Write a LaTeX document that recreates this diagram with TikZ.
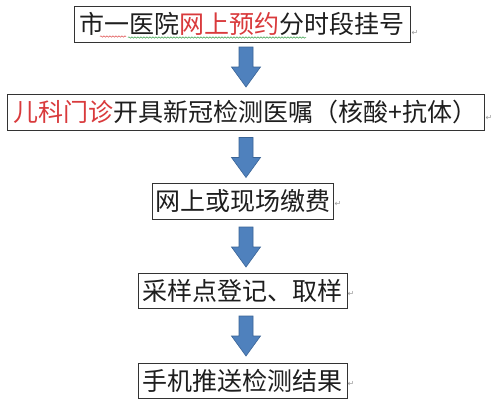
\documentclass[tikz,border=0pt]{standalone}
\usepackage{fontspec}
\newfontfamily\cjk{Noto Sans CJK SC}
\newfontfamily\dejavu{DejaVu Sans}
\usetikzlibrary{decorations.pathmorphing}
\definecolor{txt}{HTML}{1E1E1E}
\definecolor{redtxt}{HTML}{D93A3C}
\definecolor{boxline}{HTML}{333333}
\definecolor{arrowfill}{HTML}{4F81BD}
\definecolor{arrowline}{HTML}{3A6496}
\definecolor{squigred}{HTML}{E05050}
\definecolor{squiggreen}{HTML}{3AA04A}
\tikzset{
  stepbox/.style={draw=boxline, line width=1pt, inner sep=0pt, text=txt,
    font=\cjk\fontsize{25}{25}\selectfont, minimum height=36pt},
  blockarrow/.style={fill=arrowfill, draw=arrowline, line width=0.6pt, line join=miter},
  retmark/.style={font=\dejavu\fontsize{8}{8}\selectfont, text=gray!80, inner sep=0pt},
  squig/.style={line width=0.5pt, decorate, decoration={snake, amplitude=0.7pt, segment length=3pt}}
}
\begin{document}
\begin{tikzpicture}[x=1pt,y=-1pt]
\useasboundingbox (0,0) rectangle (500,413);
\fill[white] (0,0) rectangle (500,413);

\node[stepbox, minimum width=336pt] (b1) at (242,24) {市一医院{\color{redtxt}网上预约}分时段挂号};
\node[stepbox, minimum width=477pt] (b2) at (245.5,112) {{\color{redtxt}儿科门诊}开具新冠检测医嘱（核酸+抗体）};
\node[stepbox, minimum width=181pt] (b3) at (242.5,201) {网上或现场缴费};
\node[stepbox, minimum width=209pt, minimum height=35pt] (b4) at (242.5,290.5) {采样点登记、取样};
\node[stepbox, minimum width=209pt, minimum height=35pt] (b5) at (242.5,380.5) {手机推送检测结果};

\coordinate (a1) at (246,67);
\coordinate (a2) at (246,157.5);
\coordinate (a3) at (246,247);
\coordinate (a4) at (246,336);
\foreach \a in {a1,a2,a3,a4}{
  \draw[blockarrow, shift={(\a)}] (-7,-20) -- (7,-20) -- (7,0) -- (14.5,0) -- (0,20)
    -- (-14.5,0) -- (-7,0) -- cycle;
}

\node[retmark] (r1) at (415,33) {↵};
\node[retmark] (r2) at (489,118) {↵};
\node[retmark] (r3) at (338,204) {↵};
\node[retmark] (r4) at (351,294) {↵};
\node[retmark] (r5) at (351,384) {↵};

\draw[squig, squigred] (100,36.5) -- (126,36.5);
\draw[squig, squiggreen] (128,37.5) -- (306,37.5);
\end{tikzpicture}
\end{document}
